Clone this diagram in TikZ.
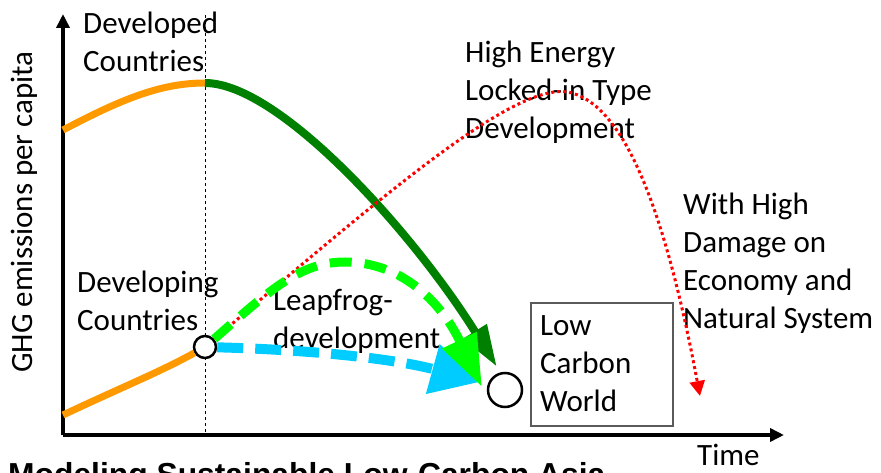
\documentclass[tikz,border=0pt]{standalone}
\usepackage{fontspec}
\setmainfont{Carlito}
\newfontfamily\headfont{Liberation Sans}
\usetikzlibrary{arrows.meta}
\definecolor{curveorange}{RGB}{255,153,0}
\definecolor{deepgreen}{RGB}{0,128,0}
\definecolor{limegreen}{RGB}{0,255,0}
\definecolor{skycyan}{RGB}{0,204,255}
\definecolor{boxgray}{RGB}{90,90,90}
\begin{document}
\begin{tikzpicture}[x=1pt,y=-1pt,
  lbl/.style={anchor=base west,inner sep=0pt,align=left,font=\fontsize{31}{38}\selectfont},
  axisline/.style={line width=3.5pt,-{Triangle[length=14pt,width=13pt]}},
  orangeline/.style={curveorange,line width=7pt},
  declinepath/.style={deepgreen,line width=8pt,-{Triangle[length=42pt,width=26pt]}},
  leappath/.style={limegreen,line width=9pt,dash pattern=on 22pt off 13pt,-{Triangle[length=52pt,width=36pt]}},
  directpath/.style={skycyan,line width=10pt,dash pattern=on 26pt off 12pt,-{Triangle[length=49pt,width=49pt]}},
  lockedpath/.style={red,line width=3pt,dash pattern=on 3pt off 3pt,-{Triangle[length=15pt,width=15pt]}},
  statecircle/.style={circle,draw,line width=2.5pt,fill=white,inner sep=0pt}]
\useasboundingbox (0,0) rectangle (881,473);
\clip (0,0) rectangle (881,473);

% axes and the divider between the two groups of countries
\coordinate (origin) at (63,435);
\coordinate (ytop) at (63,14);
\coordinate (xend) at (784,435);
\coordinate (divtop) at (205,15);
\coordinate (divbot) at (205,435);
\draw[dashed,line width=0.9pt] (divtop) -- (divbot);
\draw[axisline] (origin) -- (ytop);
\draw[axisline] (origin) -- (xend);

% labels (anchored at the baseline of their last line)
\node[lbl] (developed) at (83,72) {Developed\\Countries};
\node[lbl] (developing) at (77,330) {Developing\\Countries};
\node[lbl] (leapfrog) at (273,348) {Leapfrog-\\development};
\node[lbl] (locked) at (465,139) {High Energy\\Locked-in Type\\Development};
\node[lbl] (damage) at (683,328) {With High\\Damage on\\Economy and\\Natural System};
\node[lbl] (time) at (697,465) {Time};
\node[anchor=base,inner sep=0pt,rotate=90,font=\fontsize{31}{38}\selectfont] (ylabel) at (32,212) {GHG emissions per capita};
\node[anchor=base west,inner sep=0pt,font=\headfont\bfseries\fontsize{31.8}{38}\selectfont] (title) at (8,485) {Modeling Sustainable Low-Carbon Asia};

% target box
\node[draw=boxgray,line width=1.5pt,anchor=north west,minimum width=142pt,minimum height=123pt] (lcwbox) at (530,302) {};
\node[lbl] (lcwtext) at (540,411) {Low\\Carbon\\World};

% states
\node[statecircle,minimum size=22pt] (dev) at (205,347) {};
\node[statecircle,minimum size=34pt] (lcw) at (505,390) {};

% arrow tips next to the low carbon state
\coordinate (declinetip) at (497,367);
\coordinate (leaptip) at (482,387);
\coordinate (directtip) at (480,382);

% developed countries path
\coordinate (dvstart) at (63,130);
\coordinate (dvpeak) at (205,83);
\draw[orangeline] (dvstart) .. controls (120,100) and (160,83) .. (dvpeak);
\draw[declinepath] (dvpeak) .. controls (280,83) and (415,235) .. (declinetip);

% developing countries paths
\coordinate (dgstart) at (63,415);
\draw[orangeline] (dgstart) .. controls (120,388) and (160,372) .. (dev);
\draw[lockedpath] (dev) .. controls (400,180) and (522,78) .. (572,93)
  coordinate (lockpeak) .. controls (625,108) and (665,210) .. (700,396) coordinate (lockend);
\draw[directpath] (dev) .. controls (320,350) and (400,360) .. (directtip);
\draw[leappath] (dev) .. controls (270,290) and (300,262) .. (345,262)
  coordinate (leappeak) .. controls (400,262) and (440,300) .. (leaptip);
\end{tikzpicture}
\end{document}
